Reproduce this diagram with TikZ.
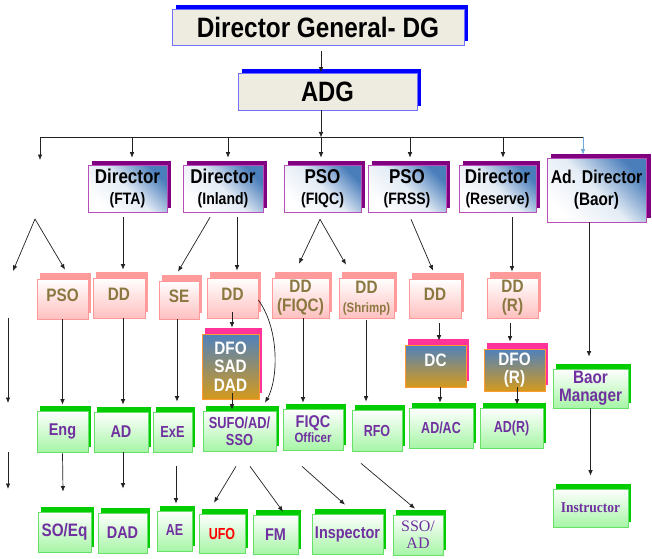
\documentclass[tikz,border=0pt]{standalone}
\usepackage{fontspec}
\usepackage{graphicx}
\setmainfont{Liberation Sans}
\newfontfamily\tnr{Liberation Serif}
\usetikzlibrary{shadows,arrows.meta}
\newcommand\cx[2][0.85]{\scalebox{#1}[1]{#2}}
\newcommand\fs[1]{\fontsize{#1}{#1}\selectfont}
\definecolor{dgfill}{HTML}{EEECE1}
\definecolor{dgedge}{HTML}{7070FF}
\definecolor{dgshadow}{HTML}{0000FF}
\definecolor{lvblue}{HTML}{4A7EBB}
\definecolor{lvedge}{HTML}{B84FB8}
\definecolor{lvshadow}{HTML}{800080}
\definecolor{pkedge}{HTML}{FF9999}
\definecolor{pkfill}{HTML}{FFC0C0}
\definecolor{pkshadow}{HTML}{FF9B9B}
\definecolor{olivetxt}{HTML}{8A7840}
\definecolor{grnedge}{HTML}{66E066}
\definecolor{grnfill}{HTML}{A6F5A6}
\definecolor{grnshadow}{HTML}{00CC00}
\definecolor{purtxt}{HTML}{7030A0}
\definecolor{boblue}{HTML}{4F81BD}
\definecolor{boorange}{HTML}{D49A1C}
\definecolor{boedge}{HTML}{FF9933}
\definecolor{boshadow}{HTML}{FF3399}
\definecolor{linkblue}{HTML}{6FA8DC}
\definecolor{lnk}{HTML}{222222}
\begin{document}
\begin{tikzpicture}[x=1pt,y=-1pt, line width=0.7pt,
 arr/.style={draw=lnk, -{Latex[length=5.5pt,width=4.5pt]}},
 basebox/.style={inner sep=0pt, align=center},
 topbox/.style={basebox, draw=dgedge, fill=dgfill, line width=0.8pt, font=\bfseries,
   general shadow={shadow xshift=4pt, shadow yshift=4pt, fill=dgshadow}},
 lvtwo/.style={basebox, draw=lvedge, line width=0.6pt, top color=lvblue, bottom color=white,
   middle color=lvblue!15!white, shading angle=-45,
   general shadow={shadow xshift=4pt, shadow yshift=4pt, fill=lvshadow},
   font=\bfseries\fontsize{16.5}{21}\selectfont},
 pinkbox/.style={basebox, draw=pkedge, top color=white, bottom color=pkfill, text=olivetxt,
   general shadow={shadow xshift=3pt, shadow yshift=6pt, fill=pkshadow},
   font=\bfseries\fontsize{18}{19}\selectfont},
 bobox/.style={basebox, draw=boedge, top color=boblue, bottom color=boorange, text=white,
   general shadow={shadow xshift=3pt, shadow yshift=6pt, fill=boshadow},
   font=\bfseries\fontsize{18}{18.5}\selectfont},
 grnbox/.style={basebox, draw=grnedge, top color=white, bottom color=grnfill, text=purtxt,
   general shadow={shadow xshift=3pt, shadow yshift=5pt, fill=grnshadow},
   font=\bfseries\fontsize{17}{17}\selectfont},
]
\path[use as bounding box, fill=white] (0,0) rectangle (652,558);

% top
\node[topbox, minimum width=292pt, minimum height=36pt] (dg) at (318,27) {\fs{28}\cx[0.87]{Director General- DG}};
\node[topbox, minimum width=179pt, minimum height=37pt] (adg) at (327.5,91.5) {\fs{28}\cx{ADG}};

% level 2
\node[lvtwo, minimum width=79pt, minimum height=47pt] (fta) at (127.5,188.5) {{\fs{20}\cx{Director}}\\\cx{(FTA)}};
\node[lvtwo, minimum width=80pt, minimum height=47pt] (inland) at (223,188.5) {{\fs{20}\cx{Director}}\\\cx{(Inland)}};
\node[lvtwo, minimum width=77pt, minimum height=47pt] (psofiqc) at (322.5,188.5) {{\fs{20}\cx{PSO}}\\\cx{(FIQC)}};
\node[lvtwo, minimum width=78pt, minimum height=47pt] (psofrss) at (407,188.5) {{\fs{20}\cx{PSO}}\\\cx{(FRSS)}};
\node[lvtwo, minimum width=77pt, minimum height=47pt] (reserve) at (497.5,188.5) {{\fs{20}\cx{Director}}\\\cx{(Reserve)}};
\node[lvtwo, minimum width=99pt, minimum height=64pt, general shadow={shadow xshift=5pt, shadow yshift=4pt, fill=lvshadow}] (baor) at (596.5,190) {{\fs{18.5}\cx{Ad. Director}}\\[1pt]{\fs{18}\cx{(Baor)}}};

% level 3 (pink)
\node[pinkbox, minimum width=51pt, minimum height=40pt] (pso) at (62.5,299) {\raisebox{8pt}{\cx{PSO}}};
\node[pinkbox, minimum width=52pt, minimum height=40pt] (ddfta) at (119,298) {\raisebox{8pt}{\cx{DD}}};
\node[pinkbox, minimum width=40pt, minimum height=38pt] (se) at (179,300) {\raisebox{8pt}{\cx{SE}}};
\node[pinkbox, minimum width=51pt, minimum height=40pt] (ddinl) at (232.5,298) {\raisebox{8pt}{\cx{DD}}};
\node[pinkbox, minimum width=57pt, minimum height=40pt] (ddfiqc) at (300.5,298) {\cx{DD}\\\cx{(FIQC)}};
\node[pinkbox, minimum width=55pt, minimum height=40pt] (ddshrimp) at (366.5,298) {\cx{DD}\\{\fs{13.5}\cx{(Shrimp)}}};
\node[pinkbox, minimum width=52pt, minimum height=39pt] (ddfrss) at (435,298.5) {\raisebox{8pt}{\cx{DD}}};
\node[pinkbox, minimum width=51pt, minimum height=40pt] (ddr) at (512.5,298) {\cx{DD}\\\cx{(R)}};

% blue-orange
\node[bobox, minimum width=57pt, minimum height=65pt] (dfo) at (230.5,366.5) {\cx{DFO}\\\cx{SAD}\\\cx{DAD}};
\node[bobox, minimum width=61pt, minimum height=42pt] (dc) at (435.5,366) {\raisebox{11pt}{\cx{DC}}};
\node[bobox, minimum width=61pt, minimum height=42pt] (dfor) at (514.5,370) {\cx{DFO}\\\cx{(R)}};

% level 4 (green)
\node[grnbox, minimum width=51pt, minimum height=41pt] (eng) at (62.5,431.5) {\cx{Eng}};
\node[grnbox, minimum width=54pt, minimum height=40pt] (ad) at (121,432) {\cx{AD}};
\node[grnbox, minimum width=39pt, minimum height=40pt] (exe) at (172.5,432) {\fs{16}\cx[0.8]{ExE}};
\node[grnbox, minimum width=73pt, minimum height=40pt] (sufo) at (239.5,431) {{\fs{16}\cx[0.8]{SUFO/AD/}}\\{\fs{16}\cx[0.8]{SSO}}};
\node[grnbox, minimum width=60pt, minimum height=41pt] (fiqco) at (313,429.5) {\cx{FIQC}\\[-2pt]{\fs{13.5}\cx{Officer}}};
\node[grnbox, minimum width=50pt, minimum height=41pt] (rfo) at (377,430.5) {\fs{16}\cx[0.78]{RFO}};
\node[grnbox, minimum width=64pt, minimum height=40pt] (adac) at (441,428) {\fs{16}\cx[0.78]{AD/AC}};
\node[grnbox, minimum width=63pt, minimum height=40pt] (adr) at (511.5,428) {\fs{16}\cx[0.78]{AD(R)}};
\node[grnbox, minimum width=75pt, minimum height=39pt] (baorm) at (590.5,388.5) {{\fs{18}\cx{Baor}}\\[1pt]{\fs{18}\cx{Manager}}};

% level 5
\node[grnbox, minimum width=53pt, minimum height=40pt] (soeq) at (64.5,532) {\fs{18}\cx{SO/Eq}};
\node[grnbox, minimum width=49pt, minimum height=40pt] (dad) at (122.5,533) {\cx{DAD}};
\node[grnbox, minimum width=35pt, minimum height=40pt] (ae) at (174.5,531) {\raisebox{3pt}{\fs{16}\cx[0.78]{AE}}};
\node[grnbox, minimum width=46pt, minimum height=39pt, text=red] (ufo) at (222,533.5) {\fs{16}\cx[0.78]{UFO}};
\node[grnbox, minimum width=45pt, minimum height=39pt] (fm) at (275.5,534.5) {\cx{FM}};
\node[grnbox, minimum width=71pt, minimum height=40pt] (insp) at (347.5,534) {\cx{Inspector}};
\node[grnbox, minimum width=50pt, minimum height=40pt] (ssoad) at (418,535) {{\tnr\mdseries\fs{16}SSO/}\\{\tnr\mdseries\fs{16}AD}};
\node[grnbox, minimum width=75pt, minimum height=38pt] (instr) at (590.5,508) {{\tnr\fs{15}\cx[0.9]{Instructor}}};

% free coordinates
\coordinate (busL) at (40,137);
\coordinate (busR) at (583,137);
\coordinate (lend) at (40,160);
\coordinate (lapex) at (35,219);
\coordinate (lleg) at (13,271);
\coordinate (l1a) at (8,318);
\coordinate (l1b) at (8,403);
\coordinate (l2a) at (8,452);
\coordinate (l2b) at (8,489);

% top connectors
\draw[arr] ([xshift=3pt,yshift=-6pt]dg.south) -- ([xshift=-6.5pt]adg.north);
\draw[arr] ([xshift=-6.5pt]adg.south) -- ([xshift=-6.5pt,yshift=-27pt]adg.south);
\draw[draw=lnk] (busL) -- (busR);
\draw[arr] (busL) -- (lend);
\draw[arr] ([xshift=4.5pt,yshift=28pt]fta.north) -- ([xshift=4.5pt,yshift=7pt]fta.north);
\draw[arr] ([xshift=5pt,yshift=28pt]inland.north) -- ([xshift=5pt,yshift=7pt]inland.north);
\draw[arr] ([xshift=-1.5pt,yshift=28pt]psofiqc.north) -- ([xshift=-1.5pt,yshift=7pt]psofiqc.north);
\draw[arr] ([xshift=3pt,yshift=28pt]psofrss.north) -- ([xshift=3pt,yshift=7pt]psofrss.north);
\draw[arr] ([xshift=5.5pt,yshift=28pt]reserve.north) -- ([xshift=5.5pt,yshift=7pt]reserve.north);
\draw[arr, draw=linkblue] (busR) -- ([xshift=-13.5pt,yshift=3pt]baor.north);

% level 2 -> 3
\draw[arr] ([xshift=-4.5pt,yshift=-5pt]fta.south) -- ([xshift=4pt,yshift=8pt]ddfta.north);
\draw[arr] ([xshift=-13pt,yshift=-5pt]inland.south) -- ([xshift=-1pt,yshift=9pt]se.north);
\draw[arr] ([xshift=14pt,yshift=-5pt]inland.south) -- ([xshift=4.5pt,yshift=7pt]ddinl.north);
\draw[arr] ([xshift=-2.5pt,yshift=-7pt]psofiqc.south) -- ([xshift=-1.5pt,yshift=14pt]ddfiqc.north);
\draw[arr] ([xshift=-2.5pt,yshift=-7pt]psofiqc.south) -- ([xshift=-20.5pt,yshift=13pt]ddshrimp.north);
\draw[arr] ([xshift=4pt,yshift=-7pt]psofrss.south) -- ([xshift=-2pt,yshift=8pt]ddfrss.north);
\draw[arr] ([xshift=14.5pt,yshift=-5pt]reserve.south) -- ([xshift=-0.5pt,yshift=6pt]ddr.north);
\draw[arr] ([xshift=-7.5pt]baor.south) -- ([xshift=-1.5pt,yshift=12pt]baorm.north);
\draw[arr] (lapex) -- (lleg);
\draw[arr] (lapex) -- ([xshift=2.5pt,yshift=9pt]pso.north);
\draw[arr] (l1a) -- (l1b);
\draw[arr] (l2a) -- (l2b);

% level 3 -> 4
\draw[arr] (pso.south) -- ([yshift=6pt]eng.north);
\draw[arr] ([xshift=4pt]ddfta.south) -- ([xshift=2pt,yshift=7pt]ad.north);
\draw[arr] ([xshift=-2pt]se.south) -- ([xshift=4.5pt,yshift=10pt]exe.north);
\draw[arr] ([xshift=-0.5pt,yshift=6pt]ddinl.south) -- ([xshift=1.5pt,yshift=6pt]dfo.north);
\draw[arr] ([xshift=1.5pt,yshift=6pt]dfo.south) -- ([xshift=-7.5pt,yshift=1pt]sufo.north);
\draw[arr] ([yshift=-2pt]ddinl.east) .. controls (280,330) and (278,380) .. ([xshift=25.5pt,yshift=8pt]sufo.north);
\draw[arr] ([xshift=2.5pt]ddfiqc.south) -- ([xshift=-10pt,yshift=6pt]fiqco.north);
\draw[arr] ([xshift=-0.5pt,yshift=-2pt]ddshrimp.south) -- ([xshift=-11pt,yshift=8pt]rfo.north);
\draw[arr] ([xshift=4pt,yshift=-5pt]ddfrss.south) -- ([xshift=3.5pt,yshift=4pt]dc.north);
\draw[arr] ([xshift=4.5pt]dc.south) -- ([xshift=-1pt,yshift=5pt]adac.north);
\draw[arr] ([xshift=-2.5pt,yshift=-5pt]ddr.south) -- ([xshift=-4.5pt,yshift=7pt]dfor.north);
\draw[arr] ([xshift=2.5pt,yshift=4pt]dfor.south) -- ([xshift=5.5pt,yshift=3pt]adr.north);
\draw[arr] (baorm.south) -- ([yshift=13pt]instr.north);

% level 4 -> 5
\draw[arr] ([yshift=-1pt]eng.south) -- ([xshift=-1.5pt,yshift=20pt]soeq.north);
\draw[arr] ([xshift=2pt]ad.south) -- ([xshift=0.5pt,yshift=24pt]dad.north);
\draw[arr] ([xshift=3.5pt,yshift=-14pt]exe.south) -- ([xshift=1.5pt,yshift=7pt]ae.north);
\draw[arr] ([xshift=-3.5pt,yshift=-15pt]sufo.south) -- ([xshift=-8pt,yshift=11pt]ufo.north);
\draw[arr] ([xshift=10.5pt,yshift=-15pt]sufo.south) -- ([xshift=7.5pt,yshift=3pt]fm.north);
\draw[arr] ([xshift=-11pt,yshift=-16pt]fiqco.south) -- ([xshift=-2.5pt,yshift=9pt]insp.north);
\draw[arr] ([xshift=-16pt,yshift=-12pt]rfo.south) -- ([xshift=-3pt,yshift=6pt]ssoad.north);
\end{tikzpicture}
\end{document}
